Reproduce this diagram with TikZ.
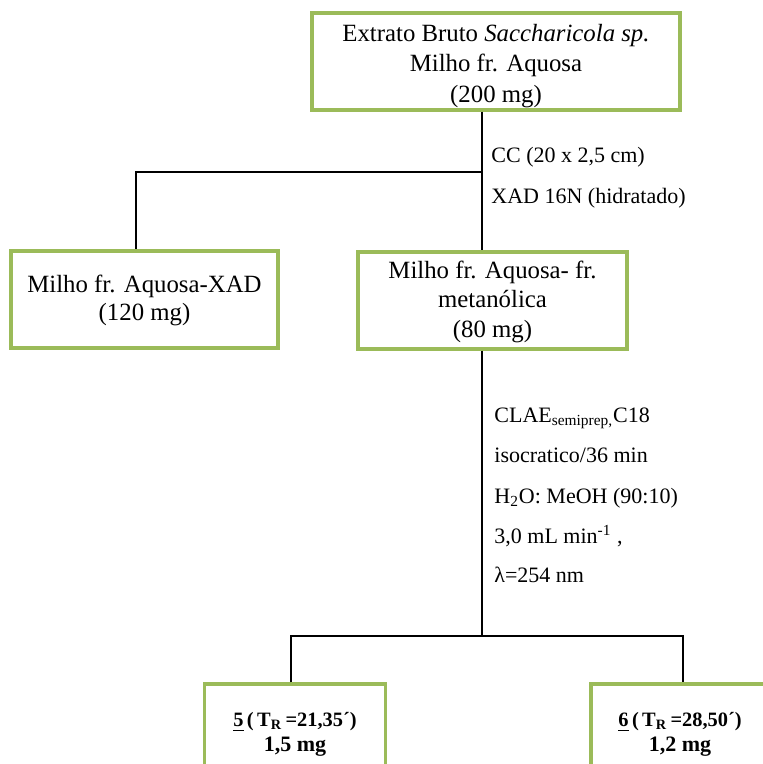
\documentclass[tikz,border=0pt]{standalone}
\usepackage{fontspec}
\setmainfont{Liberation Serif}
\definecolor{boxgreen}{HTML}{9BBB59}
\newcommand{\topstrut}[1]{\rule{0pt}{#1}}
\begin{document}
\begin{tikzpicture}[x=0.5pt,y=-0.5pt,
 box/.style={draw=boxgreen, line width=1.7pt, fill=white, align=center, inner sep=0pt, font=\fontsize{12.4}{14.5}\selectfont},
 bbox/.style={box, font=\bfseries\fontsize{11}{12.5}\selectfont},
 conn/.style={line width=1.2pt, black},
 lbl/.style={anchor=base west, inner sep=0pt, font=\fontsize{11}{13}\selectfont}]
\useasboundingbox (0,0) rectangle (763,764);
\clip (0,0) rectangle (763,764);
% junction coordinates
\coordinate (j1) at (482,172);
\coordinate (k1) at (136,172);
\coordinate (j2) at (482,636);
\coordinate (k5) at (291,636);
\coordinate (k6) at (683,636);
\path (496,61.5) coordinate (ptop) (144.5,299.5) coordinate (pxad) (492.5,300.5) coordinate (pmet) (295,734) coordinate (pc5) (680,734) coordinate (pc6);
% boxes
\node[box, font=\fontsize{12.4}{15.25}\selectfont, minimum width=184pt, minimum height=48.5pt] (top) at (ptop) {\topstrut{12.7pt}Extrato Bruto \textit{Saccharicola sp.}\\Milho fr. Aquosa\\(200 mg)};
\node[box, font=\fontsize{12.4}{14}\selectfont, minimum width=133.5pt, minimum height=48.5pt] (xad) at (pxad) {\topstrut{9.2pt}Milho fr. Aquosa-XAD\\(120 mg)};
\node[box, font=\fontsize{12.4}{14.75}\selectfont, minimum width=134.5pt, minimum height=48.5pt] (met) at (pmet) {\topstrut{9.7pt}Milho fr. Aquosa- fr.\\metanólica\\(80 mg)};
\node[bbox, minimum width=90.5pt, minimum height=50pt] (c5) at (pc5) {\topstrut{7.9pt}{\fontsize{10.2}{12.5}\selectfont\underline{5}\,(\,T\textsubscript{R}\,=21,35´)}\\1,5 mg};
\node[bbox, minimum width=89pt, minimum height=50pt] (c6) at (pc6) {\topstrut{7.9pt}{\fontsize{10.2}{12.5}\selectfont\underline{6}\,(\,T\textsubscript{R}\,=28,50´)}\\1,2 mg};
% connectors
\draw[conn] (top.south -| j1) -- (met.north -| j1);
\draw[conn] (j1) -- (k1) -- (xad.north -| k1);
\draw[conn] (met.south -| j2) -- (j2);
\draw[conn] (c5.north -| k5) -- (k5) -- (k6) -- (c6.north -| k6);
% side labels
\node[lbl] (t1) at (491,163) {CC (20 x 2,5 cm)};
\node[lbl] (t2) at (491,204) {XAD 16N (hidratado)};
\node[lbl] (t3) at (494,422) {CLAE\textsubscript{semiprep,}C18};
\node[lbl] (t4) at (494,462) {isocratico/36 min};
\node[lbl] (t5) at (494,503) {H\textsubscript{2}O: MeOH (90:10)};
\node[lbl] (t6) at (494,543) {3,0 mL min\textsuperscript{-1} ,};
\node[lbl] (t7) at (494,582) {λ=254 nm};
\end{tikzpicture}
\end{document}
